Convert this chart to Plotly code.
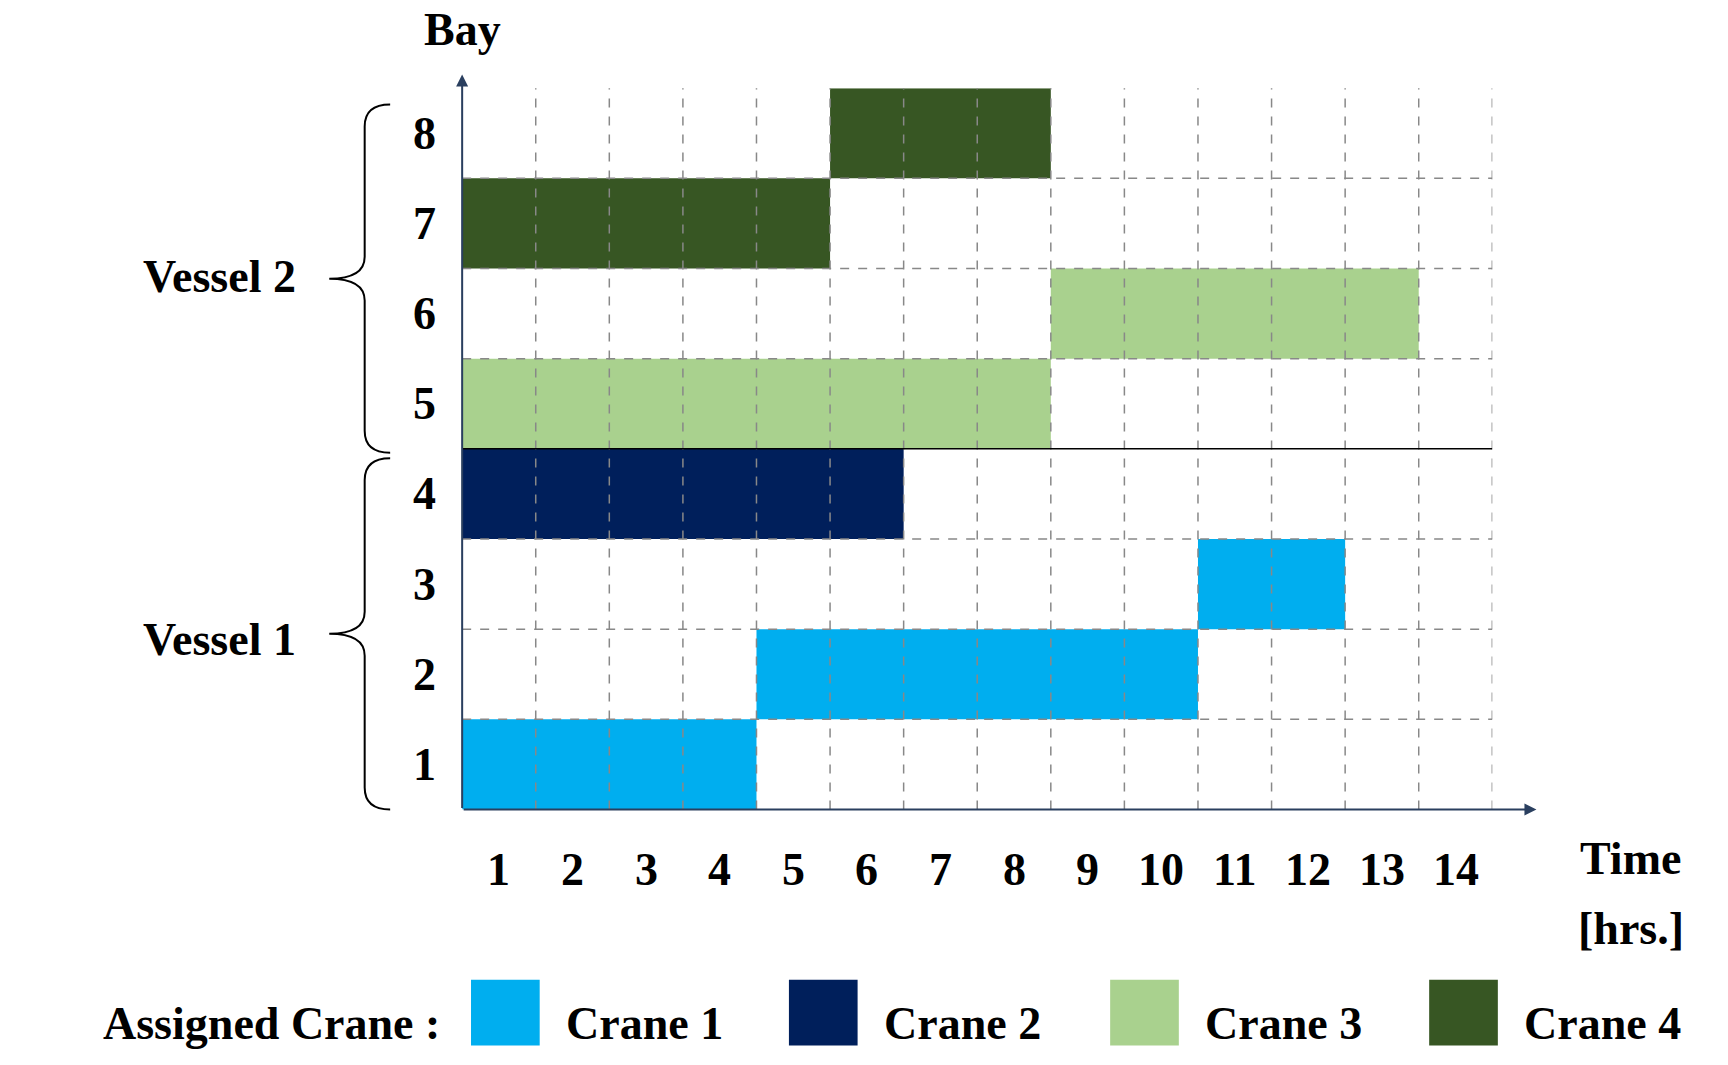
import plotly.graph_objects as go

cranes = ["Crane 1", "Crane 2", "Crane 3", "Crane 4"]
colors = ["#00AEEF", "#001F5B", "#A9D18E", "#375623"]
tasks_crane = [0, 0, 0, 1, 2, 2, 3, 3]
tasks_bay = [1, 2, 3, 4, 5, 6, 7, 8]
tasks_start = [0, 4, 10, 0, 0, 8, 0, 5]
tasks_end = [4, 10, 12, 6, 8, 13, 5, 8]
time_labels = [str(i) for i in range(1, 15)]
bay_labels = [str(i) for i in range(1, 9)]
vessels = ["Vessel 1", "Vessel 2"]

W0, H0 = 1560.0, 970.0
def px(x): return x / W0
def py(y): return 1 - y / H0

FONT = "Liberation Serif"
fig = go.Figure()
for c, b, s, e in zip(tasks_crane, tasks_bay, tasks_start, tasks_end):
    fig.add_trace(go.Bar(y=[b - 0.5], x=[e - s], base=[s], orientation="h",
                         width=1, marker=dict(color=colors[c], line=dict(width=0)),
                         showlegend=False, hoverinfo="skip"))

shapes = []
for i in range(1, 15):
    shapes.append(dict(type="line", xref="x", yref="y", x0=i, x1=i, y0=0, y1=8.1,
                       line=dict(color="#888", width=1.5, dash="dash"), layer="above"))
for j in range(1, 8):
    shapes.append(dict(type="line", xref="x", yref="y", x0=0, x1=14, y0=j, y1=j,
                       line=dict(color="black" if j == 4 else "#888", width=1.5,
                                 dash="solid" if j == 4 else "dash"), layer="above"))

def brace(y1, y2):
    xm, xe, xt = px(322), px(345), px(290)
    ym = (y1 + y2) / 2
    a, b, m = py(y1), py(y2), py(ym)
    d = py(y1) - py(y1 + 20)
    return (f"M {xe},{a} Q {xm},{a} {xm},{a-d} L {xm},{m+d} Q {xm},{m} {xt},{m} "
            f"Q {xm},{m} {xm},{m-d} L {xm},{b+d} Q {xm},{b} {xe},{b}")

for y1, y2 in [(88, 405), (410, 730)]:
    shapes.append(dict(type="path", xref="paper", yref="paper", path=brace(y1, y2),
                       line=dict(color="black", width=2)))

legend_x = [418, 705, 995, 1283]
for i, lx in enumerate(legend_x):
    shapes.append(dict(type="rect", xref="paper", yref="paper", x0=px(lx), x1=px(lx + 62),
                       y0=py(945), y1=py(885), fillcolor=colors[i], line=dict(width=0)))

ann = []
fs = 46
def A(x, y, text, xa="center", xref="paper", yref="paper"):
    ann.append(dict(x=x, y=y, xref=xref, yref=yref, text=f"<b>{text}</b>", xanchor=xa,
                    yanchor="middle", showarrow=False, font=dict(size=fs)))

for i, t in enumerate(time_labels):
    A(i + 0.5, py(785), t, xref="x")
for j, t in enumerate(bay_labels):
    A(px(376), j + 0.5, t, yref="y")
A(px(262), py(575), vessels[0], xa="right")
A(px(262), py(245), vessels[1], xa="right")
A(px(410), py(20), "Bay")
A(px(1465), py(775), "Time")
A(px(1465), py(838), "[hrs.]")
A(px(392), py(925), "Assigned Crane :", xa="right")
for i, lx in enumerate(legend_x):
    A(px(lx + 84), py(925), cranes[i], xa="left")
ann.append(dict(x=14.6, y=0, ax=0, ay=0, xref="x", yref="y", axref="x", ayref="y",
                showarrow=True, arrowhead=2, arrowsize=1.2, arrowwidth=2, text=""))
ann.append(dict(x=0, y=8.15, ax=0, ay=0, xref="x", yref="y", axref="x", ayref="y",
                showarrow=True, arrowhead=2, arrowsize=1.2, arrowwidth=2, text=""))

fig.update_layout(width=1728, height=1065, margin=dict(l=0, r=0, t=0, b=0),
                  plot_bgcolor="white", paper_bgcolor="white", barmode="overlay",
                  font=dict(family=FONT, color="black"), shapes=shapes, annotations=ann,
                  xaxis=dict(domain=[px(410), px(1340)], range=[0, 14], showgrid=False,
                             zeroline=False, showticklabels=False, ticks=""),
                  yaxis=dict(domain=[py(730), py(73)], range=[0, 8], showgrid=False,
                             zeroline=False, showticklabels=False, ticks=""))
fig.write_html("out.html")
